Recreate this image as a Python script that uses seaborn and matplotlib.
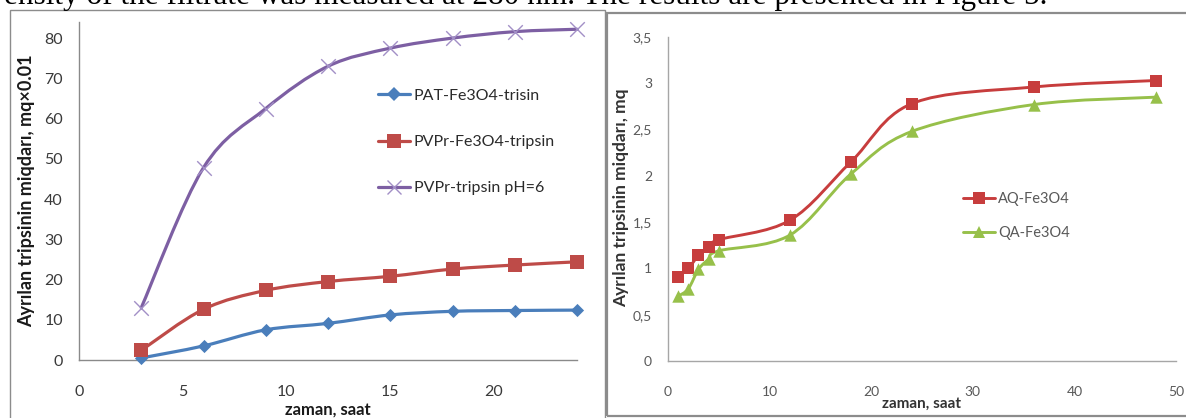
import numpy as np
import matplotlib
matplotlib.use("Agg")
import matplotlib.pyplot as plt
import seaborn as sns
from matplotlib.path import Path
from matplotlib.patches import PathPatch, Rectangle
from matplotlib.lines import Line2D
from matplotlib.ticker import MultipleLocator, FuncFormatter

# ---- left panel: released trypsin (mg x 0.01) vs time, h ----
hours_left = [3, 6, 9, 12, 15, 18, 21, 24]
pat_fe3o4 = [0.5, 3.5, 7.5, 9.1, 11.2, 12.1, 12.3, 12.4]
pvpr_fe3o4 = [2.4, 12.6, 17.3, 19.5, 20.8, 22.6, 23.6, 24.4]
pvpr_ph6 = [13.0, 47.8, 62.5, 73.0, 77.5, 80.0, 81.6, 82.2]
left_names = ["PAT-Fe3O4-trisin", "PVPr-Fe3O4-tripsin", "PVPr-tripsin pH=6"]

# ---- right panel: released trypsin (mg) vs time, h ----
hours_right = [1, 2, 3, 4, 5, 12, 18, 24, 36, 48]
aq_fe3o4 = [0.91, 1.00, 1.14, 1.23, 1.31, 1.52, 2.15, 2.78, 2.96, 3.03]
qa_fe3o4 = [0.70, 0.78, 0.99, 1.10, 1.19, 1.36, 2.02, 2.48, 2.77, 2.85]
right_names = ["AQ-Fe3O4", "QA-Fe3O4"]

W, H = 1186, 418
sns.set_theme(style="white")
plt.rcParams["font.family"] = ["Lato", "DejaVu Sans"]

fig = plt.figure(figsize=(W / 100, H / 100), dpi=100)
fig.patch.set_facecolor("white")


def px_box(x0, y_top, x1, y_bot):
    return [x0 / W, 1 - y_bot / H, (x1 - x0) / W, (y_bot - y_top) / H]


def smooth_path(x, y):
    """Catmull-Rom style Bezier path through the points (spreadsheet 'smoothed line')."""
    x = np.asarray(x, float)
    y = np.asarray(y, float)
    n = len(x)
    pts = np.column_stack([x, y])
    verts = [tuple(pts[0])]
    codes = [Path.MOVETO]
    for i in range(n - 1):
        p0 = pts[max(i - 1, 0)]
        p1 = pts[i]
        p2 = pts[i + 1]
        p3 = pts[min(i + 2, n - 1)]
        c1 = p1 + (p2 - p0) / 6.0
        c2 = p2 - (p3 - p1) / 6.0
        verts += [tuple(c1), tuple(c2), tuple(p2)]
        codes += [Path.CURVE4] * 3
    return Path(verts, codes)


def draw_series(ax, x, y, color, marker, size, lw=2.3, mcolor=None, mlw=0.0, z=3):
    ax.add_patch(PathPatch(smooth_path(x, y), facecolor="none", edgecolor=color,
                           lw=lw, capstyle="round", joinstyle="round", zorder=z,
                           clip_on=False))
    mc = mcolor or color
    if marker == "x":
        sns.scatterplot(x=x, y=y, ax=ax, marker="x", s=size, color=mc,
                        linewidth=mlw, zorder=z + 0.5, clip_on=False, legend=False)
    else:
        sns.scatterplot(x=x, y=y, ax=ax, marker=marker, s=size, color=mc,
                        edgecolor=mc, linewidth=0, zorder=z + 0.5, clip_on=False,
                        legend=False)


def style_axes(ax, spine_color, label_color, fsize, xpad, ypad):
    for s in ("top", "right"):
        ax.spines[s].set_visible(False)
    for s in ("left", "bottom"):
        ax.spines[s].set_color(spine_color)
        ax.spines[s].set_linewidth(1.0)
    ax.tick_params(which="both", direction="in", colors=spine_color, width=0.8,
                   labelcolor=label_color, labelsize=fsize)
    ax.tick_params(which="both", length=3.5)
    ax.tick_params(axis="x", which="both", pad=xpad)
    ax.tick_params(axis="y", which="both", pad=ypad)
    ax.set_xlabel("")
    ax.set_ylabel("")
    ax.set_facecolor("white")


# ---------------- left panel ----------------
axL = fig.add_axes(px_box(79, 22, 577, 360))
c_blue, c_red, c_purple = "#4a7ebb", "#be4b48", "#7d5fa3"
draw_series(axL, hours_left, pat_fe3o4, c_blue, "D", 45)
draw_series(axL, hours_left, pvpr_fe3o4, c_red, "s", 95)
draw_series(axL, hours_left, pvpr_ph6, c_purple, "x", 110, mcolor="#a28fc6", mlw=1.0)
axL.set_xlim(0, 24)
axL.set_ylim(0, 84)
axL.xaxis.set_major_locator(MultipleLocator(5))
axL.xaxis.set_minor_locator(MultipleLocator(1))
axL.yaxis.set_major_locator(MultipleLocator(10))
axL.yaxis.set_minor_locator(MultipleLocator(2))
style_axes(axL, "#8a8a8a", "#3a3a3a", 11.5, 18, 11.5)

hL = [
    Line2D([], [], color=c_blue, lw=2.3, marker="D", markersize=6.8, markeredgewidth=0),
    Line2D([], [], color=c_red, lw=2.3, marker="s", markersize=9.5, markeredgewidth=0),
    Line2D([], [], color=c_purple, lw=2.3, marker="x", markersize=10.5,
           markeredgecolor="#a28fc6", markeredgewidth=1.0),
]
legL = fig.legend(hL, left_names, loc="center left",
                  bbox_to_anchor=(378 / W, 1 - 142 / H), bbox_transform=fig.transFigure,
                  frameon=False, fontsize=11.5, handlelength=2.0, handletextpad=0.25,
                  labelspacing=2.0, borderpad=0, borderaxespad=0)
for t in legL.get_texts():
    t.set_color("#2a2a2a")

fig.text(27 / W, 1 - 191 / H, "Ayrılan tripsinin miqdarı, mq×0.01", rotation=90,
         ha="center", va="center", fontsize=13, fontweight="bold", color="#1a1a1a")
fig.text(328 / W, 1 - 410 / H, "zaman, saat", ha="center", va="center",
         fontsize=12, fontweight="bold", color="#1a1a1a")

# ---------------- right panel ----------------
axR = fig.add_axes(px_box(668, 37, 1176, 361))
c_red2, c_green = "#c73d3d", "#97c04a"
draw_series(axR, hours_right, aq_fe3o4, c_red2, "s", 80, lw=2.1)
draw_series(axR, hours_right, qa_fe3o4, c_green, "^", 80, lw=2.1)
axR.set_xlim(0, 50)
axR.set_ylim(0, 3.5)
axR.xaxis.set_major_locator(MultipleLocator(10))
axR.xaxis.set_minor_locator(MultipleLocator(2))
axR.yaxis.set_major_locator(MultipleLocator(0.5))
axR.yaxis.set_minor_locator(MultipleLocator(0.1))
axR.yaxis.set_major_formatter(FuncFormatter(lambda v, p: f"{v:g}".replace(".", ",")))
style_axes(axR, "#a6a6a6", "#595959", 10, 18, 11.5)

hR = [
    Line2D([], [], color=c_red2, lw=2.1, marker="s", markersize=8.5, markeredgewidth=0),
    Line2D([], [], color=c_green, lw=2.1, marker="^", markersize=8.5, markeredgewidth=0),
]
legR = fig.legend(hR, right_names, loc="center left",
                  bbox_to_anchor=(963 / W, 1 - 216 / H), bbox_transform=fig.transFigure,
                  frameon=False, fontsize=10.5, handlelength=2.2, handletextpad=0.2,
                  labelspacing=1.4, borderpad=0, borderaxespad=0)
for t in legR.get_texts():
    t.set_color("#595959")

fig.text(621 / W, 1 - 198 / H, "Ayrılan tripsinin miqdarı, mq", rotation=90,
         ha="center", va="center", fontsize=12.5, fontweight="bold", color="#333333")
fig.text(922 / W, 1 - 404 / H, "zaman, saat", ha="center", va="center",
         fontsize=11, fontweight="bold", color="#333333")

# ---------------- page elements ----------------
fig.add_artist(Rectangle((10 / W, -0.05), 595 / W, 1 - 10 / H + 0.05,
                         transform=fig.transFigure, fill=False, ec="#8c8c8c", lw=1.0))
fig.add_artist(Rectangle((607 / W, 2 / H), 0.6, 1 - 15 / H,
                         transform=fig.transFigure, fill=False, ec="#8c8c8c", lw=1.6))
fig.text(1047 / W, 1 - 4 / H,
         "ensity of the filtrate was measured at 280 nm. The results are presented in Figure 5.",
         ha="right", va="baseline", fontsize=22.5, family="Liberation Serif", color="black")

fig.savefig("out.png", dpi=100)
